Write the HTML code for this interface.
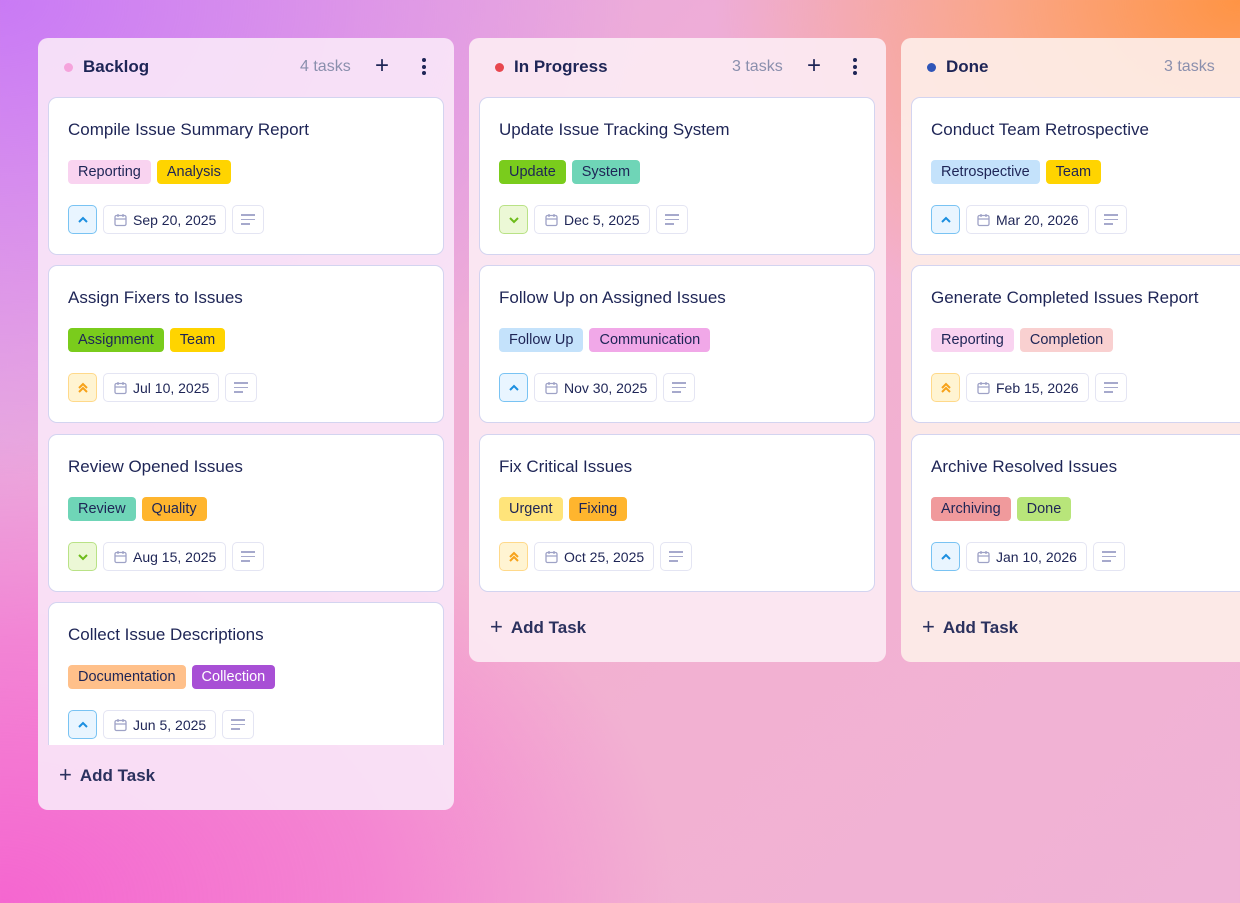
<!DOCTYPE html>
<html><head><meta charset="utf-8"><style>
*{box-sizing:border-box;margin:0;padding:0}
body{width:1240px;height:903px;overflow:hidden;position:relative;font-family:"Liberation Sans",sans-serif;color:#1e2556;
background:
radial-gradient(ellipse 700px 500px at 1240px 0px,#ff9444 0%,rgba(255,160,90,0.6) 35%,rgba(255,180,140,0) 75%),
radial-gradient(ellipse 800px 600px at 0px 0px,#c97af5 0%,rgba(210,130,240,0.5) 45%,rgba(220,150,230,0) 80%),
radial-gradient(ellipse 750px 520px at 0px 903px,#f566d0 0%,rgba(245,110,210,0.65) 50%,rgba(245,140,210,0) 90%),
linear-gradient(135deg,#e3a6e8 0%,#f3b0d0 50%,#f0b3d6 100%);}
.col{position:absolute;top:38px;border-radius:10px;overflow:hidden}
.hdr{position:absolute;top:0;left:0;right:0;height:58px}
.dot{position:absolute;left:26px;top:25px;width:9px;height:9px;border-radius:50%}
.ttl{position:absolute;left:45px;top:19px;font-size:17px;font-weight:bold}
.cnt{position:absolute;top:20px;font-size:16px;color:#8a8fad}
.plus{position:absolute;top:14px;font-size:24px;font-weight:300;color:#1e2556}
.kebab{position:absolute;top:20px;width:4px}
.kebab i{display:block;width:4px;height:4px;border-radius:50%;background:#1e2556;margin-bottom:2.5px}
.card{position:absolute;left:10px;width:396px;height:158px;background:#fff;border:1.5px solid #d3d4f0;border-radius:9px}
.ct{position:absolute;left:19px;top:22px;font-size:17px;white-space:nowrap}
.tags{position:absolute;left:19px;top:62px;display:flex;gap:6px}
.tag{height:24px;line-height:24px;padding:0 10px;border-radius:4px;font-size:14.5px;white-space:nowrap}
.ft{position:absolute;left:19px;top:107px;display:flex;gap:6px}
.pr{width:29px;height:29px;border-radius:5px;border:1.5px solid;display:flex;align-items:center;justify-content:center}
.dt{height:29px;border:1.5px solid #e4e5f3;border-radius:5px;padding:0 9px 0 10px;display:flex;align-items:center;gap:6px;font-size:14px}
.nt{width:32px;height:29px;border:1.5px solid #e4e5f3;border-radius:5px;display:flex;flex-direction:column;justify-content:center;align-items:center;gap:3px}
.nt i{display:block;height:1.5px;background:#a6a9cc}
.add{position:absolute;left:21px;font-size:17px;font-weight:bold;color:#2b315e}
.add span{font-weight:300;font-size:22px;margin-right:8px;position:relative;top:1px}
</style></head><body>

<!-- Backlog -->
<div class="col" style="left:38px;width:416px;height:772px;background:rgba(250,232,248,0.9)">
 <div class="hdr"><div class="dot" style="background:#f5a3dc"></div><div class="ttl">Backlog</div>
 <div class="cnt" style="left:262px">4 tasks</div><div class="plus" style="left:337px">+</div>
 <div class="kebab" style="left:384px"><i></i><i></i><i></i></div></div>
 <div style="position:absolute;left:0;top:0;width:416px;height:707px;overflow:hidden">
 <div class="card" style="top:59px"><div class="ct">Compile Issue Summary Report</div>
  <div class="tags"><div class="tag" style="background:#f9d3f0">Reporting</div><div class="tag" style="background:#ffd400">Analysis</div></div>
  <div class="ft"><div class="pr" style="background:#e9f5ff;border-color:#79c3f3"><svg width="12" height="8"><path d="M2 6L6 2L10 6" stroke="#1c8fe0" stroke-width="2" fill="none"/></svg></div>
  <div class="dt"><svg width="13" height="14"><rect x="1" y="2.5" width="11" height="10" rx="1.5" stroke="#9ea2c6" stroke-width="1.3" fill="none"/><path d="M1 6h11M4 1v3M9 1v3" stroke="#9ea2c6" stroke-width="1.3"/></svg>Sep 20, 2025</div>
  <div class="nt"><i style="width:14px"></i><i style="width:14px"></i><i style="width:9px;margin-right:5px"></i></div></div></div>
 <div class="card" style="top:227px"><div class="ct">Assign Fixers to Issues</div>
  <div class="tags"><div class="tag" style="background:#7acc1c">Assignment</div><div class="tag" style="background:#ffd400">Team</div></div>
  <div class="ft"><div class="pr" style="background:#fff4d2;border-color:#ffd98a"><svg width="12" height="12"><path d="M2 6L6 2L10 6M2 10L6 6L10 10" stroke="#f7a21a" stroke-width="2" fill="none"/></svg></div>
  <div class="dt"><svg width="13" height="14"><rect x="1" y="2.5" width="11" height="10" rx="1.5" stroke="#9ea2c6" stroke-width="1.3" fill="none"/><path d="M1 6h11M4 1v3M9 1v3" stroke="#9ea2c6" stroke-width="1.3"/></svg>Jul 10, 2025</div>
  <div class="nt"><i style="width:14px"></i><i style="width:14px"></i><i style="width:9px;margin-right:5px"></i></div></div></div>
 <div class="card" style="top:396px"><div class="ct">Review Opened Issues</div>
  <div class="tags"><div class="tag" style="background:#6fd5b7">Review</div><div class="tag" style="background:#ffb52e">Quality</div></div>
  <div class="ft"><div class="pr" style="background:#ecf8d6;border-color:#b9e286"><svg width="12" height="8"><path d="M2 2L6 6L10 2" stroke="#6dbb1a" stroke-width="2" fill="none"/></svg></div>
  <div class="dt"><svg width="13" height="14"><rect x="1" y="2.5" width="11" height="10" rx="1.5" stroke="#9ea2c6" stroke-width="1.3" fill="none"/><path d="M1 6h11M4 1v3M9 1v3" stroke="#9ea2c6" stroke-width="1.3"/></svg>Aug 15, 2025</div>
  <div class="nt"><i style="width:14px"></i><i style="width:14px"></i><i style="width:9px;margin-right:5px"></i></div></div></div>
 <div class="card" style="top:564px"><div class="ct">Collect Issue Descriptions</div>
  <div class="tags"><div class="tag" style="background:#ffc08a">Documentation</div><div class="tag" style="background:#a84fd5;color:#fff">Collection</div></div>
  <div class="ft"><div class="pr" style="background:#e9f5ff;border-color:#79c3f3"><svg width="12" height="8"><path d="M2 6L6 2L10 6" stroke="#1c8fe0" stroke-width="2" fill="none"/></svg></div>
  <div class="dt"><svg width="13" height="14"><rect x="1" y="2.5" width="11" height="10" rx="1.5" stroke="#9ea2c6" stroke-width="1.3" fill="none"/><path d="M1 6h11M4 1v3M9 1v3" stroke="#9ea2c6" stroke-width="1.3"/></svg>Jun 5, 2025</div>
  <div class="nt"><i style="width:14px"></i><i style="width:14px"></i><i style="width:9px;margin-right:5px"></i></div></div></div>
 </div>
 <div class="add" style="top:723px"><span>+</span>Add Task</div>
</div>

<!-- In Progress -->
<div class="col" style="left:469px;width:417px;height:624px;background:rgba(252,236,244,0.9)">
 <div class="hdr"><div class="dot" style="background:#e8474f"></div><div class="ttl">In Progress</div>
 <div class="cnt" style="left:263px">3 tasks</div><div class="plus" style="left:338px">+</div>
 <div class="kebab" style="left:384px"><i></i><i></i><i></i></div></div>
 <div class="card" style="top:59px"><div class="ct">Update Issue Tracking System</div>
  <div class="tags"><div class="tag" style="background:#7acc1c">Update</div><div class="tag" style="background:#6fd5b7">System</div></div>
  <div class="ft"><div class="pr" style="background:#ecf8d6;border-color:#b9e286"><svg width="12" height="8"><path d="M2 2L6 6L10 2" stroke="#6dbb1a" stroke-width="2" fill="none"/></svg></div>
  <div class="dt"><svg width="13" height="14"><rect x="1" y="2.5" width="11" height="10" rx="1.5" stroke="#9ea2c6" stroke-width="1.3" fill="none"/><path d="M1 6h11M4 1v3M9 1v3" stroke="#9ea2c6" stroke-width="1.3"/></svg>Dec 5, 2025</div>
  <div class="nt"><i style="width:14px"></i><i style="width:14px"></i><i style="width:9px;margin-right:5px"></i></div></div></div>
 <div class="card" style="top:227px"><div class="ct">Follow Up on Assigned Issues</div>
  <div class="tags"><div class="tag" style="background:#c4e2fb">Follow Up</div><div class="tag" style="background:#f1a8e8">Communication</div></div>
  <div class="ft"><div class="pr" style="background:#e9f5ff;border-color:#79c3f3"><svg width="12" height="8"><path d="M2 6L6 2L10 6" stroke="#1c8fe0" stroke-width="2" fill="none"/></svg></div>
  <div class="dt"><svg width="13" height="14"><rect x="1" y="2.5" width="11" height="10" rx="1.5" stroke="#9ea2c6" stroke-width="1.3" fill="none"/><path d="M1 6h11M4 1v3M9 1v3" stroke="#9ea2c6" stroke-width="1.3"/></svg>Nov 30, 2025</div>
  <div class="nt"><i style="width:14px"></i><i style="width:14px"></i><i style="width:9px;margin-right:5px"></i></div></div></div>
 <div class="card" style="top:396px"><div class="ct">Fix Critical Issues</div>
  <div class="tags"><div class="tag" style="background:#ffe47a">Urgent</div><div class="tag" style="background:#ffb52e">Fixing</div></div>
  <div class="ft"><div class="pr" style="background:#fff4d2;border-color:#ffd98a"><svg width="12" height="12"><path d="M2 6L6 2L10 6M2 10L6 6L10 10" stroke="#f7a21a" stroke-width="2" fill="none"/></svg></div>
  <div class="dt"><svg width="13" height="14"><rect x="1" y="2.5" width="11" height="10" rx="1.5" stroke="#9ea2c6" stroke-width="1.3" fill="none"/><path d="M1 6h11M4 1v3M9 1v3" stroke="#9ea2c6" stroke-width="1.3"/></svg>Oct 25, 2025</div>
  <div class="nt"><i style="width:14px"></i><i style="width:14px"></i><i style="width:9px;margin-right:5px"></i></div></div></div>
 <div class="add" style="top:575px"><span>+</span>Add Task</div>
</div>

<!-- Done -->
<div class="col" style="left:901px;width:417px;height:624px;background:rgba(253,238,232,0.92)">
 <div class="hdr"><div class="dot" style="background:#2f55b8"></div><div class="ttl">Done</div>
 <div class="cnt" style="left:263px">3 tasks</div></div>
 <div class="card" style="top:59px"><div class="ct">Conduct Team Retrospective</div>
  <div class="tags"><div class="tag" style="background:#c4e2fb">Retrospective</div><div class="tag" style="background:#ffd400">Team</div></div>
  <div class="ft"><div class="pr" style="background:#e9f5ff;border-color:#79c3f3"><svg width="12" height="8"><path d="M2 6L6 2L10 6" stroke="#1c8fe0" stroke-width="2" fill="none"/></svg></div>
  <div class="dt"><svg width="13" height="14"><rect x="1" y="2.5" width="11" height="10" rx="1.5" stroke="#9ea2c6" stroke-width="1.3" fill="none"/><path d="M1 6h11M4 1v3M9 1v3" stroke="#9ea2c6" stroke-width="1.3"/></svg>Mar 20, 2026</div>
  <div class="nt"><i style="width:14px"></i><i style="width:14px"></i><i style="width:9px;margin-right:5px"></i></div></div></div>
 <div class="card" style="top:227px"><div class="ct">Generate Completed Issues Report</div>
  <div class="tags"><div class="tag" style="background:#f9d3f0">Reporting</div><div class="tag" style="background:#f9d0d0">Completion</div></div>
  <div class="ft"><div class="pr" style="background:#fff4d2;border-color:#ffd98a"><svg width="12" height="12"><path d="M2 6L6 2L10 6M2 10L6 6L10 10" stroke="#f7a21a" stroke-width="2" fill="none"/></svg></div>
  <div class="dt"><svg width="13" height="14"><rect x="1" y="2.5" width="11" height="10" rx="1.5" stroke="#9ea2c6" stroke-width="1.3" fill="none"/><path d="M1 6h11M4 1v3M9 1v3" stroke="#9ea2c6" stroke-width="1.3"/></svg>Feb 15, 2026</div>
  <div class="nt"><i style="width:14px"></i><i style="width:14px"></i><i style="width:9px;margin-right:5px"></i></div></div></div>
 <div class="card" style="top:396px"><div class="ct">Archive Resolved Issues</div>
  <div class="tags"><div class="tag" style="background:#f09a9c">Archiving</div><div class="tag" style="background:#b8e57a">Done</div></div>
  <div class="ft"><div class="pr" style="background:#e9f5ff;border-color:#79c3f3"><svg width="12" height="8"><path d="M2 6L6 2L10 6" stroke="#1c8fe0" stroke-width="2" fill="none"/></svg></div>
  <div class="dt"><svg width="13" height="14"><rect x="1" y="2.5" width="11" height="10" rx="1.5" stroke="#9ea2c6" stroke-width="1.3" fill="none"/><path d="M1 6h11M4 1v3M9 1v3" stroke="#9ea2c6" stroke-width="1.3"/></svg>Jan 10, 2026</div>
  <div class="nt"><i style="width:14px"></i><i style="width:14px"></i><i style="width:9px;margin-right:5px"></i></div></div></div>
 <div class="add" style="top:575px"><span>+</span>Add Task</div>
</div>
</body></html>
